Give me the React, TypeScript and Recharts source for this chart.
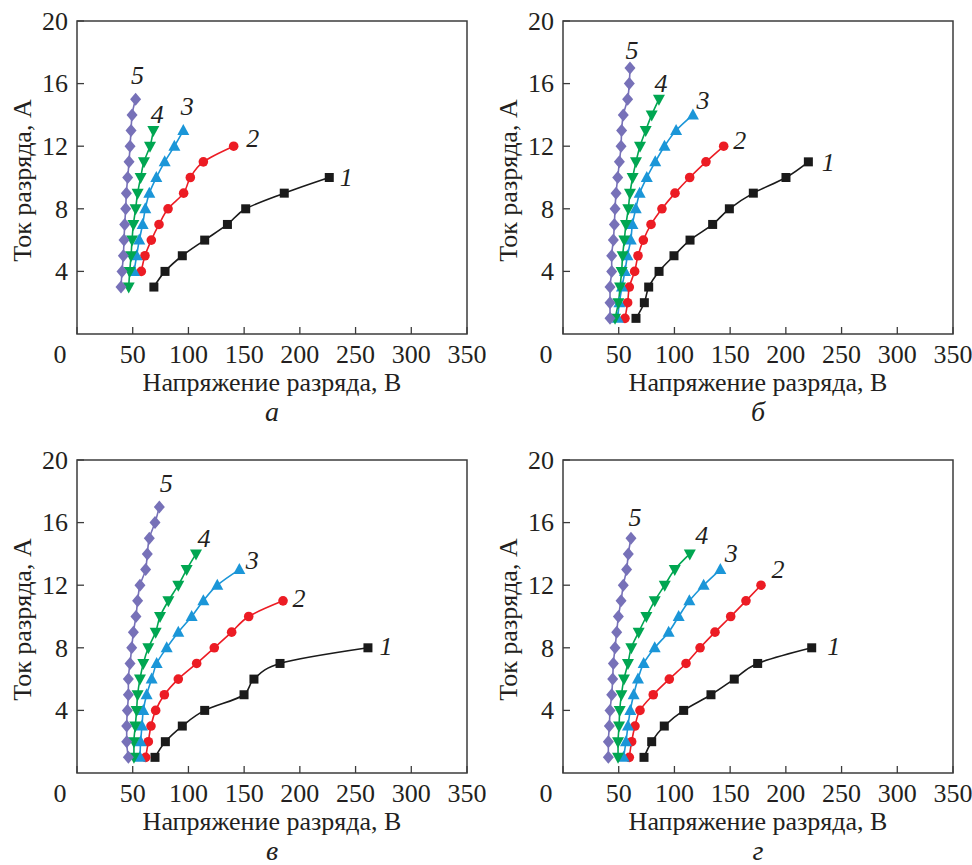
import React from "react";
import { LineChart, Line, XAxis, YAxis, ReferenceArea, Label } from "recharts";

// discharge voltage (V) / discharge current (A)

// panel а
const aU1 = [69, 79, 94.5, 114.6, 135, 151.4, 186, 226.4];
const aI1 = [3, 4, 5, 6, 7, 8, 9, 10];
const aU2 = [57.7, 61, 66.7, 73.6, 81.7, 95.7, 101.7, 113.4, 140.6];
const aI2 = [4, 5, 6, 7, 8, 9, 10, 11, 12];
const aU3 = [51.2, 53.5, 55.9, 58.9, 61.3, 64.9, 71.2, 78.7, 87.4, 95.4];
const aI3 = [4, 5, 6, 7, 8, 9, 10, 11, 12, 13];
const aU4 = [46.4, 47.3, 48.5, 49.4, 50.6, 52.6, 54.4, 57.1, 60.1, 65.5, 68.5];
const aI4 = [3, 4, 5, 6, 7, 8, 9, 10, 11, 12, 13];
const aU5 = [39.5, 40.4, 41.6, 42.2, 42.8, 43.7, 44.3, 45.5, 46.7, 47.6, 48.5, 49.4, 52.6];
const aI5 = [3, 4, 5, 6, 7, 8, 9, 10, 11, 12, 13, 14, 15];

// panel б
const bU1 = [65.5, 73, 76.9, 86.2, 99.6, 114, 134.3, 149.3, 170.8, 200.1, 220.2];
const bI1 = [1, 2, 3, 4, 5, 6, 7, 8, 9, 10, 11];
const bU2 = [55.6, 58, 59.5, 64.3, 67.3, 72.1, 79, 88.8, 100.5, 113.7, 128.3, 144.2];
const bI2 = [1, 2, 3, 4, 5, 6, 7, 8, 9, 10, 11, 12];
const bU3 = [49.1, 50.6, 52.9, 55.6, 57.8, 60.8, 62.3, 65.3, 68.8, 75.2, 82.8, 91.1, 101.5, 116.6];
const bI3 = [1, 2, 3, 4, 5, 6, 7, 8, 9, 10, 11, 12, 13, 14];
const bU4 = [46.7, 49.7, 51.2, 52.6, 53.5, 55, 56.5, 58.6, 60.1, 62.5, 65.5, 69.1, 74.2, 79.6, 86.1];
const bI4 = [1, 2, 3, 4, 5, 6, 7, 8, 9, 10, 11, 12, 13, 14, 15];
const bU5 = [42.2, 42.2, 42.2, 43.7, 43.7, 45.2, 46.1, 46.7, 47.6, 49.1, 50.6, 52.1, 52.6, 54.1, 58, 59.5, 60.1];
const bI5 = [1, 2, 3, 4, 5, 6, 7, 8, 9, 10, 11, 12, 13, 14, 15, 16, 17];

// panel в
const cU1 = [70, 79.3, 94.5, 114.6, 149.9, 158.8, 182.2, 261.1];
const cI1 = [1, 2, 3, 4, 5, 6, 7, 8];
const cU2 = [61.6, 64, 66.4, 70.6, 78.4, 90.9, 107.4, 123.2, 138.8, 154.1, 184.9];
const cI2 = [1, 2, 3, 4, 5, 6, 7, 8, 9, 10, 11];
const cU3 = [56.5, 57.1, 58.3, 59.5, 62.5, 67, 71.5, 80.5, 90.9, 102.9, 113.4, 125.9, 145.7];
const cI3 = [1, 2, 3, 4, 5, 6, 7, 8, 9, 10, 11, 12, 13];
const cU4 = [51.1, 51.1, 52.3, 53.5, 54.4, 56.5, 59.5, 64, 70.6, 74.5, 82, 90.9, 98.4, 106.8];
const cI4 = [1, 2, 3, 4, 5, 6, 7, 8, 9, 10, 11, 12, 13, 14];
const cU5 = [46.1, 44.6, 44.6, 45.2, 46.1, 46.1, 47.6, 49.1, 50.6, 52.9, 54.4, 56.5, 61.6, 63.1, 64.9, 70, 73.9];
const cI5 = [1, 2, 3, 4, 5, 6, 7, 8, 9, 10, 11, 12, 13, 14, 15, 16, 17];

// panel г
const dU1 = [72.7, 79.6, 90.9, 108.3, 132.8, 153.7, 174.7, 223.2];
const dI1 = [1, 2, 3, 4, 5, 6, 7, 8];
const dU2 = [59.5, 61.6, 64.6, 69.1, 81, 95.4, 110.4, 123, 136.4, 150.5, 164.2, 177.7];
const dI2 = [1, 2, 3, 4, 5, 6, 7, 8, 9, 10, 11, 12];
const dU3 = [54.4, 56.5, 58.3, 60.4, 63.4, 67.3, 72.4, 82.3, 94.8, 103.8, 113.4, 126.2, 141.2];
const dI3 = [1, 2, 3, 4, 5, 6, 7, 8, 9, 10, 11, 12, 13];
const dU4 = [49.4, 49.4, 50.3, 50.9, 52.4, 54.7, 58.3, 61.3, 67.9, 74.8, 82.3, 91.3, 100.3, 113.8];
const dI4 = [1, 2, 3, 4, 5, 6, 7, 8, 9, 10, 11, 12, 13, 14];
const dU5 = [40.7, 40.7, 41.6, 42.2, 43.7, 44.6, 45.2, 46.7, 48.2, 49.7, 52.1, 54.1, 57.1, 58.6, 61];
const dI5 = [1, 2, 3, 4, 5, 6, 7, 8, 9, 10, 11, 12, 13, 14, 15];

const xTicks = [0, 50, 100, 150, 200, 250, 300, 350];
const yTicks = [4, 8, 12, 16, 20];
const seriesTags = ["1", "2", "3", "4", "5"];

const xTitle = "Напряжение разряда, В";
const yTitle = "Ток разряда, А";

const FONT = "Liberation Serif, Tinos, Times New Roman, Times, DejaVu Serif, Noto Serif, FreeSerif, serif";
const INK = "#231f20";
const FRAME = "#3c3c3c";
const COLORS = ["#1a1a1a", "#ec1c24", "#1b96d8", "#00a651", "#7771b8"];
const SHAPES = ["square", "circle", "up", "down", "diamond"];

const toPoints = (u: number[], i: number[]) => u.map((v, k) => ({ u: v, i: i[k] }));

// tag offsets (dx, dy) from the last point of each curve
const panels = [
  {
    letter: "а", left: 0, top: 0, height: 440, mt: 21, axisH: 106,
    series: [[aU1, aI1], [aU2, aI2], [aU3, aI3], [aU4, aI4], [aU5, aI5]],
    tags: [[17, -1], [19, -8], [4, -25], [4, -17], [2, -24]],
  },
  {
    letter: "б", left: 486, top: 0, height: 440, mt: 21, axisH: 106,
    series: [[bU1, bI1], [bU2, bI2], [bU3, bI3], [bU4, bI4], [bU5, bI5]],
    tags: [[20, 0], [16, -6], [10, -15], [2, -16], [2, -18]],
  },
  {
    letter: "в", left: 0, top: 440, height: 425, mt: 20, axisH: 92,
    series: [[cU1, cI1], [cU2, cI2], [cU3, cI3], [cU4, cI4], [cU5, cI5]],
    tags: [[18, -2], [16, -3], [13, -10], [8, -16], [7, -24]],
  },
  {
    letter: "г", left: 486, top: 440, height: 425, mt: 20, axisH: 92,
    series: [[dU1, dI1], [dU2, dI2], [dU3, dI3], [dU4, dI4], [dU5, dI5]],
    tags: [[22, -2], [17, -16], [11, -17], [12, -19], [4, -21]],
  },
];

function Marker({ cx, cy, shape, color }: any) {
  if (shape === "square") return <rect x={cx - 4.5} y={cy - 4.5} width={9} height={9} fill={color} />;
  if (shape === "circle") return <circle cx={cx} cy={cy} r={4.8} fill={color} />;
  if (shape === "up")
    return <polygon points={`${cx},${cy - 6.5} ${cx + 6},${cy + 4.5} ${cx - 6},${cy + 4.5}`} fill={color} />;
  if (shape === "down")
    return <polygon points={`${cx},${cy + 6.5} ${cx + 6},${cy - 4.5} ${cx - 6},${cy - 4.5}`} fill={color} />;
  return <polygon points={`${cx},${cy - 6.5} ${cx + 5.5},${cy} ${cx},${cy + 6.5} ${cx - 5.5},${cy}`} fill={color} />;
}

function XTick({ x, y, payload }: any) {
  const v = payload.value;
  return (
    <g>
      <line x1={x} x2={x} y1={y} y2={y - 7} stroke={FRAME} strokeWidth={1.3} />
      <text x={v === 0 ? x - 17 : x} y={y + 29} textAnchor="middle" style={{ fontFamily: FONT }} fontSize={26} fill={INK}>
        {v}
      </text>
    </g>
  );
}

function YTick({ x, y, payload }: any) {
  return (
    <g>
      <line x1={x} x2={x + 7} y1={y} y2={y} stroke={FRAME} strokeWidth={1.3} />
      <text x={x - 9} y={y} dy="0.34em" textAnchor="end" style={{ fontFamily: FONT }} fontSize={26} fill={INK}>
        {payload.value}
      </text>
    </g>
  );
}

function Panel({ cfg }: any) {
  const renderXTitle = ({ viewBox }: any) => {
    const cx = viewBox.x + viewBox.width / 2;
    return (
      <g>
        <text x={cx} y={viewBox.y + 57} textAnchor="middle" style={{ fontFamily: FONT }} fontSize={26} fill={INK}>
          {xTitle}
        </text>
        <text x={cx} y={viewBox.y + 87} textAnchor="middle" style={{ fontFamily: FONT }} fontSize={28} fontStyle="italic" fill={INK}>
          {cfg.letter}
        </text>
      </g>
    );
  };
  const renderYTitle = ({ viewBox }: any) => {
    const tx = viewBox.x + 22;
    const ty = viewBox.y + viewBox.height / 2 + 3;
    return (
      <text
        transform={`translate(${tx}, ${ty}) rotate(-90)`}
        textAnchor="middle"
        dy="0.35em"
        style={{ fontFamily: FONT }}
        fontSize={26}
        fill={INK}
      >
        {yTitle}
      </text>
    );
  };

  return (
    <div style={{ position: "absolute", left: cfg.left, top: cfg.top }}>
      <LineChart width={486} height={cfg.height} margin={{ top: cfg.mt, right: 19, bottom: 0, left: 0 }}>
        <XAxis
          type="number"
          dataKey="u"
          domain={[0, 350]}
          ticks={xTicks}
          allowDataOverflow
          axisLine={false}
          tickLine={false}
          tickSize={0}
          tickMargin={0}
          tick={<XTick />}
          height={cfg.axisH}
          interval={0}
        >
          <Label content={renderXTitle} />
        </XAxis>
        <YAxis
          type="number"
          dataKey="i"
          domain={[0, 20]}
          ticks={yTicks}
          allowDataOverflow
          axisLine={false}
          tickLine={false}
          tickSize={0}
          tickMargin={0}
          tick={<YTick />}
          width={77}
          interval={0}
        >
          <Label content={renderYTitle} />
        </YAxis>
        <ReferenceArea x1={0} x2={350} y1={0} y2={20} fill="none" stroke={FRAME} strokeWidth={1.5} />
        {cfg.series.map(([u, i]: number[][], s: number) => {
          const pts = toPoints(u, i);
          const last = pts.length - 1;
          const [dx, dy] = cfg.tags[s];
          return (
            <Line
              key={s}
              data={pts}
              dataKey="i"
              type="monotoneY"
              stroke={COLORS[s]}
              strokeWidth={1.6}
              isAnimationActive={false}
              activeDot={false}
              dot={(p: any) => (
                <g key={`d${s}-${p.index}`}>
                  <Marker cx={p.cx} cy={p.cy} shape={SHAPES[s]} color={COLORS[s]} />
                  {p.index === last && (
                    <text
                      x={p.cx + dx}
                      y={p.cy + dy}
                      dy="0.35em"
                      textAnchor="middle"
                      style={{ fontFamily: FONT }}
                      fontSize={26}
                      fontStyle="italic"
                      fill={INK}
                    >
                      {seriesTags[s]}
                    </text>
                  )}
                </g>
              )}
            />
          );
        })}
      </LineChart>
    </div>
  );
}

export default function App() {
  return (
    <div style={{ position: "absolute", left: 0, top: 0, width: 972, height: 865, background: "#fff", overflow: "hidden", fontFamily: FONT }}>
      {panels.map((cfg) => (
        <Panel key={cfg.letter} cfg={cfg} />
      ))}
    </div>
  );
}
